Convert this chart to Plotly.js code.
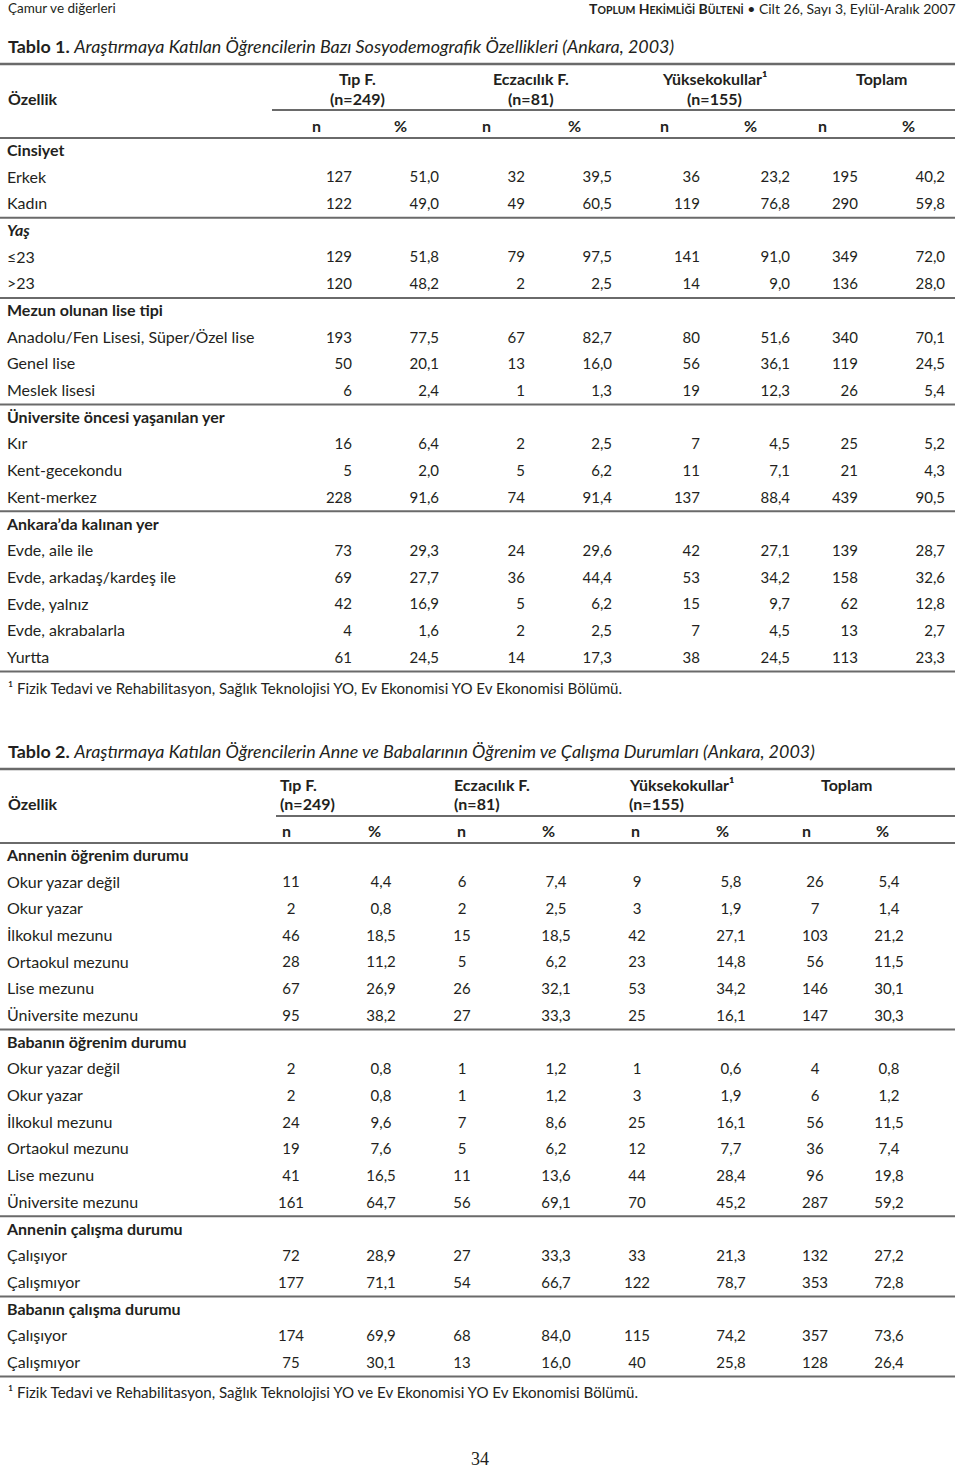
<!DOCTYPE html>
<html><head><meta charset="utf-8">
<script src="https://cdn.plot.ly/plotly-3.0.1.min.js"></script>
<style>html,body{margin:0;padding:0;background:#fff}#chart{width:960px;height:1468px}</style>
</head><body><div id="chart"></div>
<script>
// ---------- Column headers ----------
const colGroups = ["Tıp F.", "Eczacılık F.", "Yüksekokullar¹", "Toplam"];
const colSizes = ["(n=249)", "(n=81)", "(n=155)", ""];
const subHeads = ["n", "%", "n", "%", "n", "%", "n", "%"];

// ---------- Table 1 ----------
const t1Labels = ["Cinsiyet", "Erkek", "Kadın", "Yaş", "≤23", ">23", "Mezun olunan lise tipi",
  "Anadolu/Fen Lisesi, Süper/Özel lise", "Genel lise", "Meslek lisesi", "Üniversite öncesi yaşanılan yer",
  "Kır", "Kent-gecekondu", "Kent-merkez", "Ankara’da kalınan yer", "Evde, aile ile",
  "Evde, arkadaş/kardeş ile", "Evde, yalnız", "Evde, akrabalarla", "Yurtta"];
const t1TipN   = [null,127,122,null,129,120,null,193,50,6,null,16,5,228,null,73,69,42,4,61];
const t1TipPct = [null,51.0,49.0,null,51.8,48.2,null,77.5,20.1,2.4,null,6.4,2.0,91.6,null,29.3,27.7,16.9,1.6,24.5];
const t1EczN   = [null,32,49,null,79,2,null,67,13,1,null,2,5,74,null,24,36,5,2,14];
const t1EczPct = [null,39.5,60.5,null,97.5,2.5,null,82.7,16.0,1.3,null,2.5,6.2,91.4,null,29.6,44.4,6.2,2.5,17.3];
const t1YukN   = [null,36,119,null,141,14,null,80,56,19,null,7,11,137,null,42,53,15,7,38];
const t1YukPct = [null,23.2,76.8,null,91.0,9.0,null,51.6,36.1,12.3,null,4.5,7.1,88.4,null,27.1,34.2,9.7,4.5,24.5];
const t1TopN   = [null,195,290,null,349,136,null,340,119,26,null,25,21,439,null,139,158,62,13,113];
const t1TopPct = [null,40.2,59.8,null,72.0,28.0,null,70.1,24.5,5.4,null,5.2,4.3,90.5,null,28.7,32.6,12.8,2.7,23.3];

// ---------- Table 2 ----------
const t2Labels = ["Annenin öğrenim durumu", "Okur yazar değil", "Okur yazar", "İlkokul mezunu", "Ortaokul mezunu",
  "Lise mezunu", "Üniversite mezunu", "Babanın öğrenim durumu", "Okur yazar değil", "Okur yazar",
  "İlkokul mezunu", "Ortaokul mezunu", "Lise mezunu", "Üniversite mezunu", "Annenin çalışma durumu",
  "Çalışıyor", "Çalışmıyor", "Babanın çalışma durumu", "Çalışıyor", "Çalışmıyor"];
const t2TipN   = [null,11,2,46,28,67,95,null,2,2,24,19,41,161,null,72,177,null,174,75];
const t2TipPct = [null,4.4,0.8,18.5,11.2,26.9,38.2,null,0.8,0.8,9.6,7.6,16.5,64.7,null,28.9,71.1,null,69.9,30.1];
const t2EczN   = [null,6,2,15,5,26,27,null,1,1,7,5,11,56,null,27,54,null,68,13];
const t2EczPct = [null,7.4,2.5,18.5,6.2,32.1,33.3,null,1.2,1.2,8.6,6.2,13.6,69.1,null,33.3,66.7,null,84.0,16.0];
const t2YukN   = [null,9,3,42,23,53,25,null,1,3,25,12,44,70,null,33,122,null,115,40];
const t2YukPct = [null,5.8,1.9,27.1,14.8,34.2,16.1,null,0.6,1.9,16.1,7.7,28.4,45.2,null,21.3,78.7,null,74.2,25.8];
const t2TopN   = [null,26,7,103,56,146,147,null,4,6,56,36,96,287,null,132,353,null,357,128];
const t2TopPct = [null,5.4,1.4,21.2,11.5,30.1,30.3,null,0.8,1.2,11.5,7.4,19.8,59.2,null,27.2,72.8,null,73.6,26.4];

// ---------- Styling / layout ----------
const FONT = "Lato, 'Open Sans', sans-serif";
const TXT = "#231f20";
const LINE = "#6a6a6a";
const BODY = 15;     // numbers
const LAB = 16;      // row labels and headers
const fmtN = v => v === null ? "" : String(v);
const fmtP = v => v === null ? "" : v.toFixed(1).replace(".", ",");

const traces = [];
const annotations = [];
const shapes = [];

function hline(y, x0, x1, w) {
  shapes.push({type: "line", xref: "x", yref: "y", x0: x0, x1: x1, y0: y, y1: y,
    line: {color: LINE, width: w}});
}
function ann(text, x, y, xa, size, extra) {
  annotations.push(Object.assign({text: text, x: x, y: y, xref: "x", yref: "y", xanchor: xa, yanchor: "middle",
    showarrow: false, font: {family: FONT, size: size, color: TXT}, borderpad: 0}, extra || {}));
}
function textTrace(xs, ys, texts, pos, size) {
  traces.push({type: "scatter", mode: "text", x: xs, y: ys, text: texts, textposition: pos,
    textfont: {family: FONT, size: size, color: TXT}, hoverinfo: "skip", showlegend: false, cliponaxis: false});
}

function buildTable(cfg) {
  const {labels, cols, y0, step, colX, colPos, italicGroups} = cfg;
  const ys = labels.map((_, i) => y0 + i * step);
  const isGroup = labels.map((_, i) => cols[0][i] === null);
  const labTexts = labels.map((l, i) => {
    if (!isGroup[i]) return l;
    return (italicGroups && italicGroups.includes(l)) ? "<b><i>" + l + "</i></b>" : "<b>" + l + "</b>";
  });
  textTrace(labels.map(() => 7), ys, labTexts, "middle right", LAB);
  cols.forEach((col, c) => {
    const f = c % 2 === 0 ? fmtN : fmtP;
    textTrace(col.map(() => colX[c]), ys, col.map(f), colPos, BODY);
  });
  for (let i = 0; i < labels.length; i++) {
    const last = i === labels.length - 1;
    if (last || isGroup[i + 1]) hline(ys[i] + 12.5, 0, 955, 2);
  }
  return ys;
}

// Page header
ann("Çamur ve diğerleri", 7, 8, "left", 13.5);
ann("<b>T<span style='font-size:10.5px'>OPLUM</span> H<span style='font-size:10.5px'>EKİMLİĞİ</span> B<span style='font-size:10.5px'>ÜLTENİ</span></b> • Cilt 26, Sayı 3, Eylül-Aralık 2007", 957, 8, "right", 14);

// Table 1
ann("<b>Tablo 1.</b> <i>Araştırmaya Katılan Öğrencilerin Bazı Sosyodemografik Özellikleri (Ankara, 2003)</i>", 7, 46, "left", 17.9);
hline(64, 0, 955, 2.5);
ann("<b>Özellik</b>", 7, 98, "left", LAB);
const t1GroupX = [357, 531, 714, 881];
colGroups.forEach((g, i) => {
  ann("<b>" + g + "</b>", t1GroupX[i], 78, "center", LAB);
  if (colSizes[i]) ann("<b>" + colSizes[i] + "</b>", t1GroupX[i], 98, "center", LAB);
});
hline(110, 272, 955, 2);
const t1SubX = [316, 400, 486, 574, 664, 750, 822, 908];
subHeads.forEach((s, i) => ann("<b>" + s + "</b>", t1SubX[i], 125, "center", LAB));
hline(138, 0, 955, 2);
buildTable({labels: t1Labels, cols: [t1TipN, t1TipPct, t1EczN, t1EczPct, t1YukN, t1YukPct, t1TopN, t1TopPct],
  y0: 152, step: 26.68, colX: [352, 439, 525, 612, 700, 790, 858, 945], colPos: "middle left", italicGroups: ["Yaş"]});
ann("¹ Fizik Tedavi ve Rehabilitasyon, Sağlık Teknolojisi YO, Ev Ekonomisi YO Ev Ekonomisi Bölümü.", 7, 688, "left", 15.1);

// Table 2
ann("<b>Tablo 2.</b> <i>Araştırmaya Katılan Öğrencilerin Anne ve Babalarının Öğrenim ve Çalışma Durumları (Ankara, 2003)</i>", 7, 751, "left", 17.9);
hline(769, 0, 955, 2.5);
ann("<b>Özellik</b>", 7, 803, "left", LAB);
const t2GroupX = [279, 453, 628, 820];
colGroups.forEach((g, i) => {
  ann("<b>" + g + "</b>", t2GroupX[i], 784, "left", LAB);
  if (colSizes[i]) ann("<b>" + colSizes[i] + "</b>", t2GroupX[i], 803, "left", LAB);
});
hline(816, 276, 955, 2);
const t2SubX = [286, 374, 461, 548, 635, 722, 806, 882];
subHeads.forEach((s, i) => ann("<b>" + s + "</b>", t2SubX[i], 830, "center", LAB));
hline(843, 0, 955, 2);
buildTable({labels: t2Labels, cols: [t2TipN, t2TipPct, t2EczN, t2EczPct, t2YukN, t2YukPct, t2TopN, t2TopPct],
  y0: 857, step: 26.68, colX: [291, 381, 462, 556, 637, 731, 815, 889], colPos: "middle center"});
ann("¹ Fizik Tedavi ve Rehabilitasyon, Sağlık Teknolojisi YO ve Ev Ekonomisi YO Ev Ekonomisi Bölümü.", 7, 1392, "left", 15.1);

// Page number
ann("34", 480, 1459, "center", 18, {font: {family: "'Liberation Serif', serif", size: 18, color: TXT}});

const layout = {
  width: 960, height: 1468, margin: {l: 0, r: 0, t: 0, b: 0},
  paper_bgcolor: "#fff", plot_bgcolor: "#fff",
  xaxis: {range: [0, 960], visible: false, fixedrange: true},
  yaxis: {range: [1468, 0], visible: false, fixedrange: true},
  showlegend: false, annotations: annotations, shapes: shapes
};
Plotly.newPlot("chart", traces, layout, {staticPlot: true, displayModeBar: false});
</script></body></html>
